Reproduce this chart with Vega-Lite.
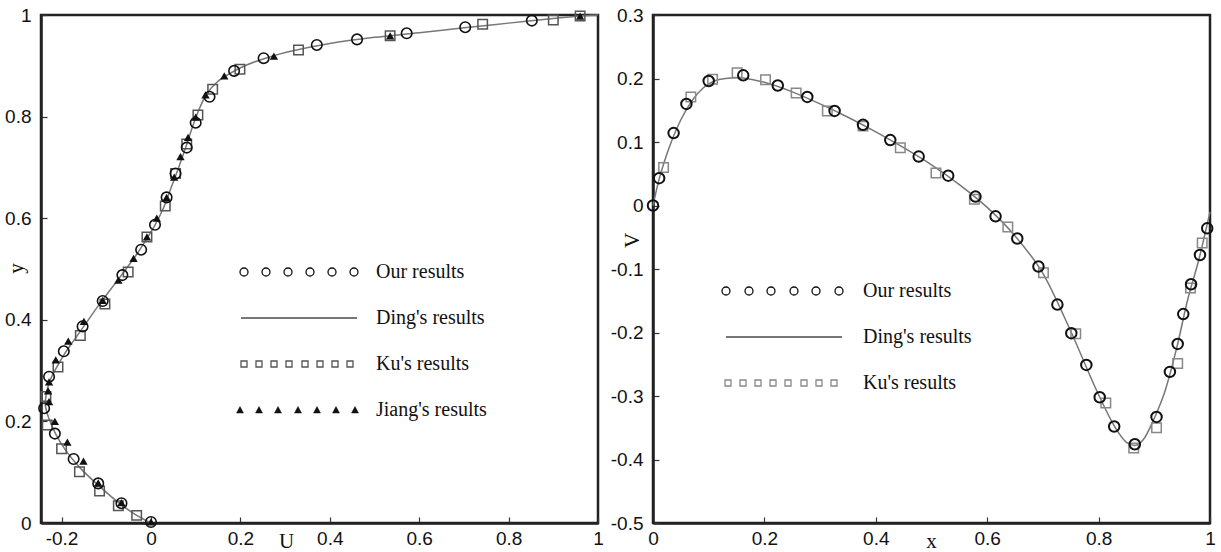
{
  "$schema": "https://vega.github.io/schema/vega-lite/v6.json",
  "background": "white",
  "autosize": {"type": "pad"},
  "padding": {"left": 3, "top": 4, "right": 2, "bottom": 0},
  "bounds": "flush",
  "spacing": 55,
  "config": {
    "locale": {"number": {"decimal": ".", "thousands": ",", "grouping": [3], "currency": ["$", ""], "minus": "-"}},
    "view": {"stroke": "#222", "strokeWidth": 2.5},
    "axis": {
      "grid": false, "domainColor": "#222", "domainWidth": 2.5, "tickColor": "#333", "tickSize": -6, "tickWidth": 1.2,
      "labelFont": "Liberation Sans", "labelFontSize": 19, "labelColor": "#111", "labelFlush": false, "labelOverlap": false,
      "titleFont": "Liberation Serif", "titleFontSize": 21, "titleFontWeight": "normal", "titleColor": "#111",
      "titleBaseline": "middle", "titleAlign": "center", "format": "~g"
    },
    "axisX": {"labelPadding": 12},
    "axisY": {"labelPadding": 16}
  },
  "datasets": {
    "leftDing": [
      {"U": 0, "y": 0, "series": "Ding's results"},
      {"U": -0.032, "y": 0.015, "series": "Ding's results"},
      {"U": -0.068, "y": 0.037, "series": "Ding's results"},
      {"U": -0.115, "y": 0.072, "series": "Ding's results"},
      {"U": -0.158, "y": 0.108, "series": "Ding's results"},
      {"U": -0.19, "y": 0.142, "series": "Ding's results"},
      {"U": -0.213, "y": 0.175, "series": "Ding's results"},
      {"U": -0.228, "y": 0.205, "series": "Ding's results"},
      {"U": -0.236, "y": 0.23, "series": "Ding's results"},
      {"U": -0.234, "y": 0.255, "series": "Ding's results"},
      {"U": -0.226, "y": 0.28, "series": "Ding's results"},
      {"U": -0.212, "y": 0.305, "series": "Ding's results"},
      {"U": -0.194, "y": 0.332, "series": "Ding's results"},
      {"U": -0.172, "y": 0.36, "series": "Ding's results"},
      {"U": -0.148, "y": 0.39, "series": "Ding's results"},
      {"U": -0.12, "y": 0.425, "series": "Ding's results"},
      {"U": -0.09, "y": 0.46, "series": "Ding's results"},
      {"U": -0.06, "y": 0.495, "series": "Ding's results"},
      {"U": -0.035, "y": 0.525, "series": "Ding's results"},
      {"U": -0.012, "y": 0.556, "series": "Ding's results"},
      {"U": 0.008, "y": 0.585, "series": "Ding's results"},
      {"U": 0.028, "y": 0.62, "series": "Ding's results"},
      {"U": 0.045, "y": 0.66, "series": "Ding's results"},
      {"U": 0.062, "y": 0.7, "series": "Ding's results"},
      {"U": 0.078, "y": 0.74, "series": "Ding's results"},
      {"U": 0.093, "y": 0.78, "series": "Ding's results"},
      {"U": 0.108, "y": 0.815, "series": "Ding's results"},
      {"U": 0.125, "y": 0.845, "series": "Ding's results"},
      {"U": 0.148, "y": 0.868, "series": "Ding's results"},
      {"U": 0.175, "y": 0.884, "series": "Ding's results"},
      {"U": 0.21, "y": 0.9, "series": "Ding's results"},
      {"U": 0.26, "y": 0.916, "series": "Ding's results"},
      {"U": 0.32, "y": 0.93, "series": "Ding's results"},
      {"U": 0.4, "y": 0.944, "series": "Ding's results"},
      {"U": 0.5, "y": 0.956, "series": "Ding's results"},
      {"U": 0.6, "y": 0.965, "series": "Ding's results"},
      {"U": 0.7, "y": 0.975, "series": "Ding's results"},
      {"U": 0.8, "y": 0.984, "series": "Ding's results"},
      {"U": 0.9, "y": 0.993, "series": "Ding's results"},
      {"U": 0.96, "y": 0.998, "series": "Ding's results"},
      {"U": 1.0, "y": 1.0, "series": "Ding's results"}
    ],
    "leftOur": [
      {"U": 0, "y": 0.002, "series": "Our results"},
      {"U": -0.066, "y": 0.039, "series": "Our results"},
      {"U": -0.118, "y": 0.078, "series": "Our results"},
      {"U": -0.173, "y": 0.126, "series": "Our results"},
      {"U": -0.215, "y": 0.176, "series": "Our results"},
      {"U": -0.239, "y": 0.226, "series": "Our results"},
      {"U": -0.228, "y": 0.288, "series": "Our results"},
      {"U": -0.195, "y": 0.338, "series": "Our results"},
      {"U": -0.153, "y": 0.387, "series": "Our results"},
      {"U": -0.108, "y": 0.437, "series": "Our results"},
      {"U": -0.064, "y": 0.488, "series": "Our results"},
      {"U": -0.022, "y": 0.538, "series": "Our results"},
      {"U": 0.009, "y": 0.587, "series": "Our results"},
      {"U": 0.035, "y": 0.641, "series": "Our results"},
      {"U": 0.055, "y": 0.688, "series": "Our results"},
      {"U": 0.08, "y": 0.739, "series": "Our results"},
      {"U": 0.1, "y": 0.788, "series": "Our results"},
      {"U": 0.131, "y": 0.839, "series": "Our results"},
      {"U": 0.186, "y": 0.89, "series": "Our results"},
      {"U": 0.252, "y": 0.915, "series": "Our results"},
      {"U": 0.371, "y": 0.941, "series": "Our results"},
      {"U": 0.461, "y": 0.952, "series": "Our results"},
      {"U": 0.572, "y": 0.964, "series": "Our results"},
      {"U": 0.703, "y": 0.976, "series": "Our results"},
      {"U": 0.852, "y": 0.989, "series": "Our results"}
    ],
    "leftKu": [
      {"U": -0.032, "y": 0.015, "series": "Ku's results"},
      {"U": -0.073, "y": 0.034, "series": "Ku's results"},
      {"U": -0.115, "y": 0.063, "series": "Ku's results"},
      {"U": -0.16, "y": 0.101, "series": "Ku's results"},
      {"U": -0.2, "y": 0.146, "series": "Ku's results"},
      {"U": -0.232, "y": 0.193, "series": "Ku's results"},
      {"U": -0.235, "y": 0.249, "series": "Ku's results"},
      {"U": -0.208, "y": 0.307, "series": "Ku's results"},
      {"U": -0.158, "y": 0.369, "series": "Ku's results"},
      {"U": -0.103, "y": 0.431, "series": "Ku's results"},
      {"U": -0.051, "y": 0.494, "series": "Ku's results"},
      {"U": -0.009, "y": 0.563, "series": "Ku's results"},
      {"U": 0.032, "y": 0.624, "series": "Ku's results"},
      {"U": 0.055, "y": 0.688, "series": "Ku's results"},
      {"U": 0.08, "y": 0.746, "series": "Ku's results"},
      {"U": 0.105, "y": 0.803, "series": "Ku's results"},
      {"U": 0.138, "y": 0.854, "series": "Ku's results"},
      {"U": 0.199, "y": 0.893, "series": "Ku's results"},
      {"U": 0.33, "y": 0.931, "series": "Ku's results"},
      {"U": 0.535, "y": 0.959, "series": "Ku's results"},
      {"U": 0.742, "y": 0.982, "series": "Ku's results"},
      {"U": 0.9, "y": 0.99, "series": "Ku's results"},
      {"U": 0.96, "y": 0.998, "series": "Ku's results"}
    ],
    "leftJiang": [
      {"U": 0, "y": 0.002, "series": "Jiang's results"},
      {"U": -0.066, "y": 0.04, "series": "Jiang's results"},
      {"U": -0.118, "y": 0.079, "series": "Jiang's results"},
      {"U": -0.151, "y": 0.122, "series": "Jiang's results"},
      {"U": -0.187, "y": 0.159, "series": "Jiang's results"},
      {"U": -0.215, "y": 0.2, "series": "Jiang's results"},
      {"U": -0.228, "y": 0.239, "series": "Jiang's results"},
      {"U": -0.23, "y": 0.26, "series": "Jiang's results"},
      {"U": -0.228, "y": 0.278, "series": "Jiang's results"},
      {"U": -0.213, "y": 0.321, "series": "Jiang's results"},
      {"U": -0.185, "y": 0.358, "series": "Jiang's results"},
      {"U": -0.15, "y": 0.397, "series": "Jiang's results"},
      {"U": -0.108, "y": 0.438, "series": "Jiang's results"},
      {"U": -0.073, "y": 0.478, "series": "Jiang's results"},
      {"U": -0.039, "y": 0.521, "series": "Jiang's results"},
      {"U": -0.009, "y": 0.563, "series": "Jiang's results"},
      {"U": 0.013, "y": 0.6, "series": "Jiang's results"},
      {"U": 0.035, "y": 0.641, "series": "Jiang's results"},
      {"U": 0.052, "y": 0.681, "series": "Jiang's results"},
      {"U": 0.066, "y": 0.721, "series": "Jiang's results"},
      {"U": 0.083, "y": 0.759, "series": "Jiang's results"},
      {"U": 0.1, "y": 0.799, "series": "Jiang's results"},
      {"U": 0.122, "y": 0.843, "series": "Jiang's results"},
      {"U": 0.164, "y": 0.88, "series": "Jiang's results"},
      {"U": 0.275, "y": 0.919, "series": "Jiang's results"},
      {"U": 0.535, "y": 0.959, "series": "Jiang's results"},
      {"U": 0.96, "y": 0.998, "series": "Jiang's results"}
    ],
    "rightDing": [
      {"x": 0, "V": 0, "series": "Ding's results"},
      {"x": 0.01, "V": 0.038, "series": "Ding's results"},
      {"x": 0.02, "V": 0.068, "series": "Ding's results"},
      {"x": 0.035, "V": 0.105, "series": "Ding's results"},
      {"x": 0.05, "V": 0.135, "series": "Ding's results"},
      {"x": 0.07, "V": 0.165, "series": "Ding's results"},
      {"x": 0.09, "V": 0.185, "series": "Ding's results"},
      {"x": 0.11, "V": 0.196, "series": "Ding's results"},
      {"x": 0.13, "V": 0.2, "series": "Ding's results"},
      {"x": 0.15, "V": 0.201, "series": "Ding's results"},
      {"x": 0.175, "V": 0.199, "series": "Ding's results"},
      {"x": 0.2, "V": 0.194, "series": "Ding's results"},
      {"x": 0.25, "V": 0.179, "series": "Ding's results"},
      {"x": 0.3, "V": 0.16, "series": "Ding's results"},
      {"x": 0.35, "V": 0.139, "series": "Ding's results"},
      {"x": 0.4, "V": 0.116, "series": "Ding's results"},
      {"x": 0.45, "V": 0.091, "series": "Ding's results"},
      {"x": 0.5, "V": 0.064, "series": "Ding's results"},
      {"x": 0.55, "V": 0.033, "series": "Ding's results"},
      {"x": 0.6, "V": -0.003, "series": "Ding's results"},
      {"x": 0.65, "V": -0.048, "series": "Ding's results"},
      {"x": 0.7, "V": -0.107, "series": "Ding's results"},
      {"x": 0.75, "V": -0.198, "series": "Ding's results"},
      {"x": 0.8, "V": -0.298, "series": "Ding's results"},
      {"x": 0.83, "V": -0.35, "series": "Ding's results"},
      {"x": 0.85, "V": -0.373, "series": "Ding's results"},
      {"x": 0.865, "V": -0.378, "series": "Ding's results"},
      {"x": 0.88, "V": -0.369, "series": "Ding's results"},
      {"x": 0.9, "V": -0.335, "series": "Ding's results"},
      {"x": 0.92, "V": -0.29, "series": "Ding's results"},
      {"x": 0.94, "V": -0.225, "series": "Ding's results"},
      {"x": 0.96, "V": -0.148, "series": "Ding's results"},
      {"x": 0.98, "V": -0.085, "series": "Ding's results"},
      {"x": 1.0, "V": -0.01, "series": "Ding's results"}
    ],
    "rightOur": [
      {"x": 0, "V": 0, "series": "Our results"},
      {"x": 0.011, "V": 0.043, "series": "Our results"},
      {"x": 0.037, "V": 0.114, "series": "Our results"},
      {"x": 0.06, "V": 0.16, "series": "Our results"},
      {"x": 0.1, "V": 0.196, "series": "Our results"},
      {"x": 0.162, "V": 0.205, "series": "Our results"},
      {"x": 0.224, "V": 0.189, "series": "Our results"},
      {"x": 0.277, "V": 0.171, "series": "Our results"},
      {"x": 0.326, "V": 0.149, "series": "Our results"},
      {"x": 0.377, "V": 0.127, "series": "Our results"},
      {"x": 0.426, "V": 0.103, "series": "Our results"},
      {"x": 0.477, "V": 0.077, "series": "Our results"},
      {"x": 0.53, "V": 0.047, "series": "Our results"},
      {"x": 0.579, "V": 0.014, "series": "Our results"},
      {"x": 0.615, "V": -0.017, "series": "Our results"},
      {"x": 0.654, "V": -0.052, "series": "Our results"},
      {"x": 0.692, "V": -0.096, "series": "Our results"},
      {"x": 0.726, "V": -0.156, "series": "Our results"},
      {"x": 0.751, "V": -0.201, "series": "Our results"},
      {"x": 0.778, "V": -0.251, "series": "Our results"},
      {"x": 0.802, "V": -0.302, "series": "Our results"},
      {"x": 0.828, "V": -0.348, "series": "Our results"},
      {"x": 0.865, "V": -0.376, "series": "Our results"},
      {"x": 0.904, "V": -0.333, "series": "Our results"},
      {"x": 0.928, "V": -0.262, "series": "Our results"},
      {"x": 0.942, "V": -0.218, "series": "Our results"},
      {"x": 0.952, "V": -0.171, "series": "Our results"},
      {"x": 0.966, "V": -0.124, "series": "Our results"},
      {"x": 0.982, "V": -0.078, "series": "Our results"},
      {"x": 0.995, "V": -0.036, "series": "Our results"}
    ],
    "rightKu": [
      {"x": 0.019, "V": 0.06, "series": "Ku's results"},
      {"x": 0.068, "V": 0.171, "series": "Ku's results"},
      {"x": 0.107, "V": 0.199, "series": "Ku's results"},
      {"x": 0.151, "V": 0.209, "series": "Ku's results"},
      {"x": 0.202, "V": 0.198, "series": "Ku's results"},
      {"x": 0.257, "V": 0.177, "series": "Ku's results"},
      {"x": 0.313, "V": 0.149, "series": "Ku's results"},
      {"x": 0.377, "V": 0.125, "series": "Ku's results"},
      {"x": 0.444, "V": 0.091, "series": "Ku's results"},
      {"x": 0.508, "V": 0.051, "series": "Ku's results"},
      {"x": 0.577, "V": 0.01, "series": "Ku's results"},
      {"x": 0.637, "V": -0.034, "series": "Ku's results"},
      {"x": 0.701, "V": -0.106, "series": "Ku's results"},
      {"x": 0.759, "V": -0.202, "series": "Ku's results"},
      {"x": 0.813, "V": -0.311, "series": "Ku's results"},
      {"x": 0.863, "V": -0.382, "series": "Ku's results"},
      {"x": 0.904, "V": -0.35, "series": "Ku's results"},
      {"x": 0.942, "V": -0.249, "series": "Ku's results"},
      {"x": 0.965, "V": -0.13, "series": "Ku's results"},
      {"x": 0.986, "V": -0.059, "series": "Ku's results"}
    ]
  },
  "resolve": {"scale": {"color": "independent"}, "legend": {"color": "independent"}},
  "hconcat": [
    {
      "width": 557,
      "height": 508,
      "layer": [
        {
          "data": {"name": "leftDing"},
          "mark": {"type": "line", "interpolate": "catmull-rom", "strokeWidth": 1.5},
          "encoding": {
            "x": {"field": "U", "type": "quantitative", "scale": {"domain": [-0.246, 1], "nice": false, "zero": false},
                  "axis": {"values": [-0.2, 0, 0.2, 0.4, 0.6, 0.8, 1], "title": "U", "titleX": 245, "titleY": 18}},
            "y": {"field": "y", "type": "quantitative", "scale": {"domain": [0, 1], "nice": false},
                  "axis": {"values": [0, 0.2, 0.4, 0.6, 0.8, 1], "title": "y", "titleX": -25, "titleY": 253}},
            "order": {"field": "y", "type": "quantitative"},
            "color": {
              "field": "series", "type": "nominal",
              "scale": {"domain": ["Our results", "Ding's results", "Ku's results", "Jiang's results"], "range": ["#111111", "#777777", "#555555", "#111111"]},
              "legend": {
                "orient": "none", "legendX": 193, "legendY": 247, "title": null, "padding": 0, "rowPadding": 26,
                "labelFont": "Liberation Serif", "labelFontSize": 20, "labelColor": "#111111", "labelOffset": 122, "symbolOffset": 0,
                "symbolSize": 4, "symbolStrokeWidth": 1.5,
                "encode": {"symbols": {"update": {
                  "shape": {"signal": "datum.index === 0 ? 'M4,0A4,4 0 1,1 -4,0A4,4 0 1,1 4,0Z M26,0A4,4 0 1,1 18,0A4,4 0 1,1 26,0Z M48,0A4,4 0 1,1 40,0A4,4 0 1,1 48,0Z M70,0A4,4 0 1,1 62,0A4,4 0 1,1 70,0Z M92,0A4,4 0 1,1 84,0A4,4 0 1,1 92,0Z M114,0A4,4 0 1,1 106,0A4,4 0 1,1 114,0Z' : datum.index === 1 ? 'M-3,0L113,0' : datum.index === 2 ? 'M-3,-3h6v6h-6Z M12,-3h6v6h-6Z M27,-3h6v6h-6Z M42,-3h6v6h-6Z M58,-3h6v6h-6Z M73,-3h6v6h-6Z M88,-3h6v6h-6Z M103,-3h6v6h-6Z' : 'M-4,-3.5L-0.5,3L-7.5,3Z M15,-3.5L18.5,3L11.5,3Z M34,-3.5L37.5,3L30.5,3Z M54,-3.5L57.5,3L50.5,3Z M73,-3.5L76.5,3L69.5,3Z M92,-3.5L95.5,3L88.5,3Z M111,-3.5L114.5,3L107.5,3Z'"},
                  "size": {"value": 4},
                  "fillOpacity": {"signal": "datum.index === 3 ? 1 : 0"},
                  "stroke": {"signal": "datum.index === 0 ? '#222222' : datum.index === 1 ? '#777777' : datum.index === 2 ? '#555555' : '#111111'"},
                  "strokeWidth": {"signal": "datum.index === 1 ? 2 : datum.index === 3 ? 0.5 : 1.3"},
                  "opacity": {"value": 1}
                }}}
              }
            }
          }
        },
        {
          "data": {"name": "leftKu"},
          "mark": {"type": "point", "shape": "square", "filled": false, "size": 90, "strokeWidth": 1.5, "opacity": 1},
          "encoding": {
            "x": {"field": "U", "type": "quantitative"},
            "y": {"field": "y", "type": "quantitative"},
            "color": {"field": "series", "type": "nominal"}
          }
        },
        {
          "data": {"name": "leftJiang"},
          "mark": {"type": "point", "shape": "triangle-up", "filled": true, "size": 70, "opacity": 1},
          "encoding": {
            "x": {"field": "U", "type": "quantitative"},
            "y": {"field": "y", "type": "quantitative"},
            "color": {"field": "series", "type": "nominal"}
          }
        },
        {
          "data": {"name": "leftOur"},
          "mark": {"type": "point", "shape": "circle", "filled": false, "size": 110, "strokeWidth": 1.6, "opacity": 1},
          "encoding": {
            "x": {"field": "U", "type": "quantitative"},
            "y": {"field": "y", "type": "quantitative"},
            "color": {"field": "series", "type": "nominal"}
          }
        }
      ]
    },
    {
      "width": 557,
      "height": 508,
      "layer": [
        {
          "data": {"name": "rightDing"},
          "mark": {"type": "line", "interpolate": "monotone", "strokeWidth": 1.5},
          "encoding": {
            "x": {"field": "x", "type": "quantitative", "scale": {"domain": [0, 1], "nice": false},
                  "axis": {"values": [0, 0.2, 0.4, 0.6, 0.8, 1], "title": "x", "titleX": 278, "titleY": 18}},
            "y": {"field": "V", "type": "quantitative", "scale": {"domain": [-0.5, 0.3], "nice": false, "zero": false},
                  "axis": {"values": [-0.5, -0.4, -0.3, -0.2, -0.1, 0, 0.1, 0.2, 0.3], "title": "V", "titleX": -21, "titleY": 225}},
            "color": {
              "field": "series", "type": "nominal",
              "scale": {"domain": ["Our results", "Ding's results", "Ku's results"], "range": ["#111111", "#777777", "#888888"]},
              "legend": {
                "orient": "none", "legendX": 63, "legendY": 266, "title": null, "padding": 0, "rowPadding": 26,
                "labelFont": "Liberation Serif", "labelFontSize": 20, "labelColor": "#111111", "labelOffset": 127, "symbolOffset": 0,
                "symbolSize": 4, "symbolStrokeWidth": 1.5,
                "encode": {"symbols": {"update": {
                  "shape": {"signal": "datum.index === 0 ? 'M4,0A4,4 0 1,1 -4,0A4,4 0 1,1 4,0Z M27,0A4,4 0 1,1 19,0A4,4 0 1,1 27,0Z M49,0A4,4 0 1,1 41,0A4,4 0 1,1 49,0Z M72,0A4,4 0 1,1 64,0A4,4 0 1,1 72,0Z M94,0A4,4 0 1,1 86,0A4,4 0 1,1 94,0Z M117,0A4,4 0 1,1 109,0A4,4 0 1,1 117,0Z' : datum.index === 1 ? 'M0,0L116,0' : 'M-1,-3h6v6h-6Z M14,-3h6v6h-6Z M29,-3h6v6h-6Z M44,-3h6v6h-6Z M59,-3h6v6h-6Z M75,-3h6v6h-6Z M90,-3h6v6h-6Z M105,-3h6v6h-6Z'"},
                  "size": {"value": 4},
                  "fillOpacity": {"value": 0},
                  "stroke": {"signal": "datum.index === 0 ? '#222222' : datum.index === 1 ? '#777777' : '#666666'"},
                  "strokeWidth": {"signal": "datum.index === 1 ? 2 : 1.3"},
                  "opacity": {"value": 1}
                }}}
              }
            }
          }
        },
        {
          "data": {"name": "rightKu"},
          "mark": {"type": "point", "shape": "square", "filled": false, "size": 90, "strokeWidth": 1.5, "opacity": 1},
          "encoding": {
            "x": {"field": "x", "type": "quantitative"},
            "y": {"field": "V", "type": "quantitative"},
            "color": {"field": "series", "type": "nominal"}
          }
        },
        {
          "data": {"name": "rightOur"},
          "mark": {"type": "point", "shape": "circle", "filled": false, "size": 110, "strokeWidth": 2, "opacity": 1},
          "encoding": {
            "x": {"field": "x", "type": "quantitative"},
            "y": {"field": "V", "type": "quantitative"},
            "color": {"field": "series", "type": "nominal"}
          }
        }
      ]
    }
  ]
}
